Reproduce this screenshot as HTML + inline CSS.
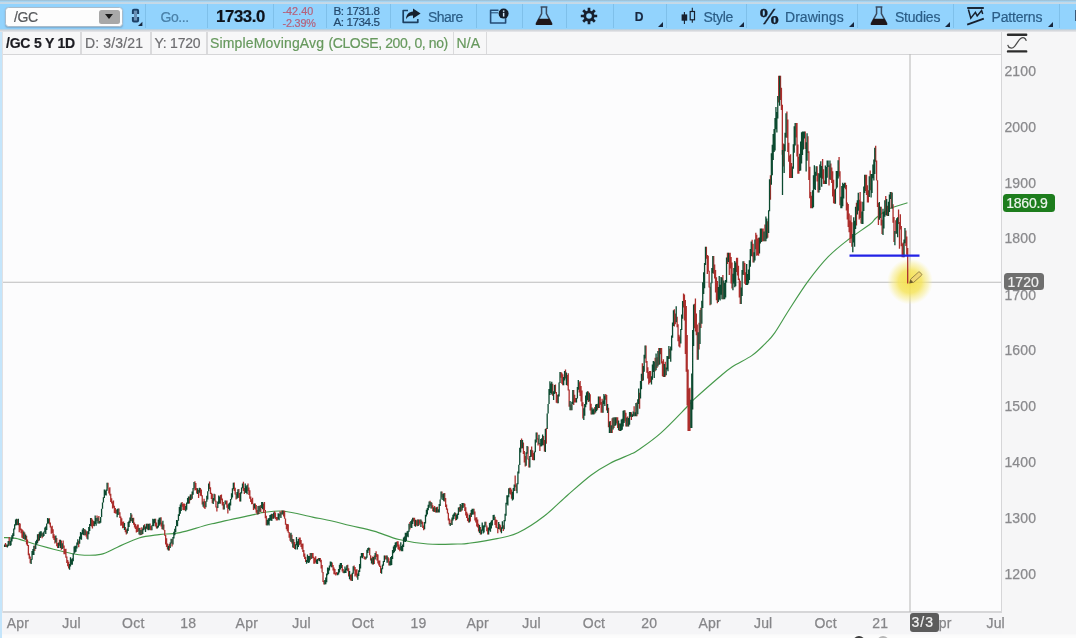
<!DOCTYPE html>
<html><head><meta charset="utf-8"><title>/GC chart</title>
<style>
*{box-sizing:border-box;margin:0;padding:0}
html,body{width:1076px;height:638px;overflow:hidden;background:#fcfcfd;font-family:"Liberation Sans",sans-serif}
#root{will-change:transform;position:relative;width:1076px;height:638px;overflow:hidden;background:#fcfcfd}
.abs{position:absolute}
#tb{left:0;top:0;width:1076px;height:29px;background:#92d3fd}
#tbtop{left:0;top:0;width:1076px;height:4px;background:linear-gradient(#9dc2d8 0,#9fc5dc 22%,#a4d4f2 30%,#a6d5f2 50%,#c2d8e8 58%,#c6d9e7 88%,#a8d6f4 100%)}
#tbtop2{display:none}
#tbbot{left:0;top:28.5px;width:1076px;height:3.3px;background:linear-gradient(#a9cfe8,#d3d6da 45%,#e9e9ec)}
.sep{position:absolute;top:4px;width:1px;height:24px;background:#7fc0ea}
.t{position:absolute;white-space:nowrap;line-height:1;-webkit-text-stroke:.2px currentColor}
.tri{position:absolute;top:22px;width:0;height:0;border-left:5px solid transparent;border-bottom:5px solid #17263d}
#info{left:3px;top:31px;width:997.8px;height:24px;background:#f7f7f8;border-bottom:1.5px solid #d6d6d8}
.isep{position:absolute;top:32px;width:1.5px;height:22px;background:#dadadc}
#leftb{left:0;top:29px;width:2px;height:609px;background:#c4e5fb;border-right:0}
#axr{left:1001.5px;top:31px;width:75px;height:607px;background:#f6f6f7}
#axb{left:2px;top:612px;width:1000px;height:22px;background:#f5f5f7}
#bot{left:0;top:633.8px;width:1076px;height:5px;background:linear-gradient(#f8f8f9,#fcfcfc 40%)}
.yl{position:absolute;left:1004.4px;font-size:14px;color:#8a8a8d;-webkit-text-stroke:.25px #8a8a8d;line-height:1;letter-spacing:.15px}
.xl{position:absolute;top:615.6px;font-size:14px;color:#868689;-webkit-text-stroke:.25px #868689;letter-spacing:.2px;line-height:1;transform:translateX(-50%);white-space:nowrap}
.chart{position:absolute;left:0;top:0}
</style></head><body><div id="root">

<!-- chart frame -->
<div class="abs" id="axr"></div>
<div class="abs" id="axb"></div>
<div class="abs" id="bot"></div>
<div class="abs" style="left:2.5px;top:611.2px;width:999.5px;height:1.6px;background:#d6d6d8"></div>
<div class="abs" style="left:1000.7px;top:31px;width:1.5px;height:582px;background:#d6d6d8"></div>
<div class="abs" id="leftb"></div>
<div class="abs" style="left:2px;top:31px;width:1px;height:582px;background:#e0e0e3"></div>

<!-- info bar -->
<div class="abs" id="info"></div>
<div class="isep" style="left:80px"></div>
<div class="isep" style="left:150px"></div>
<div class="isep" style="left:206px"></div>
<div class="isep" style="left:452.5px"></div>
<div class="isep" style="left:485.5px"></div>
<span class="t" id="i1" style="left:6px;top:36px;font-size:14px;font-weight:bold;color:#1c1c22;letter-spacing:-0.208px">/GC 5 Y 1D</span>
<span class="t" id="i2" style="left:85px;top:36px;font-size:14px;color:#6d6d70;letter-spacing:0.152px">D: 3/3/21</span>
<span class="t" id="i3" style="left:154.5px;top:36px;font-size:14px;color:#6d6d70;letter-spacing:-0.243px">Y: 1720</span>
<span class="t" id="i4" style="left:210px;top:36px;font-size:14px;color:#67995e;letter-spacing:0.16px">SimpleMovingAvg</span>
<span class="t" id="i6" style="left:328.5px;top:36px;font-size:14px;color:#67995e;letter-spacing:-0.397px">(CLOSE, 200, 0, no)</span>
<span class="t" id="i5" style="left:456.5px;top:36px;font-size:14px;color:#67995e;letter-spacing:0.185px">N/A</span>

<!-- scale icon -->
<svg class="abs" style="left:1005px;top:31px" width="26" height="24" viewBox="0 0 26 24"><path d="M3 3.8H21.2M3 20.4H21.2" stroke="#2c2c2c" stroke-width="2.4" stroke-linecap="round" fill="none"/><path d="M2.7 13.8C3.6 17.6 7.2 18 9.6 15.3C12.2 12.4 13.4 9.3 15.6 7.6C18 5.8 20.6 6.9 21.3 9.8" stroke="#4a4a4a" stroke-width="1.25" fill="none"/></svg>

<svg class="chart" width="1076" height="638" viewBox="0 0 1076 638">
<defs><radialGradient id="yl"><stop offset="0" stop-color="#f4e04a" stop-opacity=".95"/><stop offset=".5" stop-color="#f5e45c" stop-opacity=".85"/><stop offset=".8" stop-color="#f8ec88" stop-opacity=".45"/><stop offset="1" stop-color="#fbf3a0" stop-opacity="0"/></radialGradient></defs>
<path d="M3 282.2H1001" stroke="#bcbcbc" stroke-width="1.1" fill="none"/>
<path d="M910 54V612" stroke="#bcbcbc" stroke-width="1.1" fill="none"/>
<circle cx="910" cy="281.6" r="23" fill="url(#yl)"/>
<path d="M4.0 537.6C6.0 537.7 11.1 537.4 16.0 538.4C20.9 539.4 26.4 541.8 33.5 543.8C40.6 545.8 51.2 548.7 58.7 550.5C66.2 552.3 71.8 554.1 78.8 554.7C85.8 555.4 94.2 555.6 100.6 554.4C107.0 553.1 111.0 549.9 117.4 547.2C123.8 544.5 132.1 540.1 139.0 538.0C145.9 535.9 152.2 535.5 159.0 534.6C165.8 533.7 171.2 534.4 180.0 532.6C188.8 530.8 199.7 526.8 212.0 523.8C224.3 520.8 245.2 516.5 253.9 514.6C262.6 512.7 259.0 513.0 264.0 512.4C269.0 511.8 276.0 510.4 284.1 511.2C292.2 512.0 304.6 515.5 312.6 517.1C320.6 518.7 325.8 519.6 332.0 521.0C338.2 522.4 343.0 523.8 350.0 525.5C357.0 527.2 365.7 528.8 373.9 531.1C382.1 533.4 390.1 537.4 399.0 539.5C407.9 541.6 417.8 543.2 427.6 544.0C437.4 544.8 450.9 544.1 457.8 544.0C464.7 543.9 462.3 544.2 468.8 543.3C475.3 542.4 488.8 540.4 497.0 538.6C505.2 536.9 510.2 536.5 518.0 532.8C525.8 529.1 535.8 522.6 544.0 516.3C552.2 510.0 559.7 502.0 567.5 495.2C575.3 488.4 584.0 480.5 591.0 475.2C598.0 469.9 603.3 466.8 609.8 463.4C616.3 459.9 625.2 456.7 630.0 454.5C634.8 452.3 633.2 453.6 638.3 450.0C643.4 446.4 652.4 440.5 660.7 433.1C669.0 425.7 682.7 411.1 688.3 405.5C693.9 399.9 689.2 403.8 694.2 399.2C699.2 394.6 711.9 383.4 718.2 378.0C724.6 372.6 726.6 370.5 732.3 366.7C737.9 362.9 746.5 359.4 752.1 355.4C757.8 351.4 762.4 346.4 766.2 342.7C770.0 338.9 770.9 338.3 774.7 332.9C778.5 327.5 783.2 319.0 788.8 310.3C794.4 301.6 801.9 289.6 808.5 280.7C815.1 271.8 821.7 263.5 828.3 256.7C834.9 249.9 841.0 245.2 848.0 239.8C855.0 234.4 865.3 227.8 870.0 224.2C874.7 220.6 872.8 220.6 876.0 218.0C879.2 215.4 884.0 211.2 889.3 208.7C894.5 206.2 904.5 203.8 907.5 202.8" stroke="#45994a" stroke-width="1.15" fill="none" stroke-linejoin="round"/>
<g stroke-width="1.3" fill="none" style="filter:blur(.4px)">
<path d="M5.51 542.9V547.1M6.43 544.4V547.1M9.18 537.0V544.8M17.41 519.2V525.1M19.24 522.9V532.3M20.15 523.4V530.2M21.07 528.4V533.3M21.98 529.2V537.7M22.90 530.3V538.4M24.73 532.6V539.7M26.56 535.8V544.5M27.47 539.5V546.1M28.39 545.0V555.2M29.30 553.6V558.7M30.22 556.6V563.3M34.79 545.4V551.0M38.45 534.1V541.3M42.11 533.2V538.2M49.43 518.2V524.6M50.35 522.5V527.4M51.26 526.5V533.8M52.18 525.8V533.1M53.09 529.3V538.2M54.01 534.3V539.9M54.92 536.1V543.4M56.75 538.0V546.3M57.67 543.1V547.9M59.50 539.7V545.7M61.33 540.4V549.8M63.16 540.5V548.3M64.07 545.4V554.2M64.99 549.1V554.3M65.90 548.7V557.8M66.82 556.6V563.1M67.73 560.0V566.3M68.65 561.8V568.5M78.72 540.7V547.2M84.21 529.1V535.4M86.04 530.5V536.5M86.95 531.4V538.8M91.53 517.9V526.5M92.44 519.6V528.4M93.36 520.7V526.1M97.02 515.4V521.0M98.85 516.1V523.6M108.00 482.7V488.5M108.91 488.2V493.4M109.83 487.3V495.4M110.74 493.7V502.0M111.66 498.2V503.4M112.57 501.6V508.6M113.49 500.4V507.8M114.40 505.8V513.1M115.32 508.1V513.4M116.23 510.1V513.7M118.98 508.6V514.6M119.89 512.2V517.9M120.81 516.5V525.7M121.72 518.2V525.4M122.64 521.7V528.3M123.55 521.5V527.9M125.38 527.1V532.3M126.30 529.4V534.5M131.79 514.4V521.2M133.62 517.8V524.8M134.53 522.6V527.4M135.45 523.9V529.1M136.36 526.2V532.4M137.28 524.5V532.0M138.19 524.5V531.4M140.02 527.7V535.3M141.85 527.2V534.8M144.60 524.2V529.2M147.34 523.8V529.5M150.09 523.5V530.3M151.00 525.9V530.3M155.58 518.7V526.5M156.49 522.4V528.6M161.07 517.3V526.4M161.98 522.6V529.2M163.81 524.5V530.3M164.73 530.0V535.8M165.64 535.1V544.4M166.56 538.3V547.0M167.47 543.5V549.4M169.30 544.1V550.4M172.05 538.9V546.5M182.11 502.1V506.8M183.02 503.9V510.1M183.94 503.3V510.3M184.85 504.1V510.3M189.43 496.6V503.5M191.26 494.2V500.1M194.92 481.2V490.6M195.83 483.0V490.1M196.75 488.1V493.6M198.58 489.9V498.0M200.41 488.1V495.7M201.32 489.6V496.3M202.24 495.2V504.6M204.07 498.7V507.9M204.98 501.1V509.0M209.56 481.6V488.9M210.47 487.2V493.9M211.39 492.8V499.0M212.30 493.8V503.2M215.05 494.3V501.4M215.96 500.8V507.6M216.88 506.5V511.6M220.54 495.1V503.8M221.45 494.5V500.3M222.37 498.5V505.6M223.28 501.9V509.5M226.03 500.4V504.5M226.94 500.4V507.8M227.86 504.6V513.6M234.26 482.4V491.1M235.18 487.8V494.5M236.09 493.7V499.4M238.84 488.9V498.1M239.75 493.0V501.4M243.41 481.8V490.9M244.33 488.1V494.0M247.99 483.6V490.9M248.90 487.4V495.1M249.82 490.3V498.8M250.73 496.4V502.1M251.65 499.3V504.2M252.56 497.7V504.1M253.48 503.8V509.9M255.31 503.6V509.4M256.22 505.0V512.7M257.14 509.9V514.5M258.97 505.8V514.1M260.80 505.0V511.9M263.54 503.4V512.9M264.46 502.1V510.6M265.37 510.0V518.2M266.29 515.8V525.2M272.69 513.9V518.7M274.52 511.3V517.7M275.44 512.5V519.1M276.35 517.0V520.4M277.27 517.0V520.4M280.01 511.3V516.5M281.84 510.4V514.6M283.67 510.4V516.6M284.59 510.8V518.7M285.50 518.4V524.7M286.42 523.8V529.3M287.33 524.0V531.2M288.25 524.3V532.8M289.17 532.0V537.7M290.08 533.6V540.7M291.91 534.8V543.5M293.74 539.3V548.0M294.66 542.0V548.9M299.23 537.5V545.2M300.15 537.4V544.2M301.06 540.0V546.9M301.98 543.7V549.3M302.89 543.5V552.0M303.81 549.9V556.8M304.72 553.5V558.9M305.64 556.7V561.9M310.21 553.0V560.2M312.04 553.0V558.5M312.96 553.0V557.9M313.87 556.8V563.7M314.79 557.9V563.7M315.70 556.2V562.5M318.45 558.0V560.6M320.28 558.0V562.2M321.19 559.7V568.6M322.11 564.9V572.5M323.02 572.1V581.9M323.94 580.7V584.6M332.17 562.4V567.2M333.09 565.1V570.4M334.00 567.4V574.3M334.92 569.1V574.5M335.83 572.7V575.5M336.75 572.0V574.6M342.24 564.9V571.6M343.15 569.1V573.0M347.73 564.7V571.2M348.64 568.2V576.5M350.47 574.5V580.4M351.39 574.3V580.7M354.13 565.6V570.4M355.05 567.1V576.5M355.96 569.4V575.4M356.88 569.2V577.5M363.28 553.0V556.8M364.20 556.3V559.1M365.11 557.0V559.8M369.69 548.0V555.3M370.60 555.2V560.5M372.43 556.6V564.4M374.26 555.6V563.9M376.09 551.3V557.1M377.01 554.1V560.6M377.92 554.6V563.5M378.84 560.5V565.4M379.75 560.5V567.0M380.67 565.7V573.0M385.24 555.5V559.5M386.16 555.5V559.5M387.99 557.1V562.4M388.90 558.2V565.4M397.14 541.2V546.4M398.05 541.2V549.2M398.97 544.6V550.0M399.88 546.8V551.2M409.95 521.9V529.6M413.61 517.8V521.4M414.52 517.8V526.1M416.35 520.2V525.4M417.27 519.4V526.3M419.10 519.4V525.3M420.01 519.4V523.6M421.84 520.8V524.1M422.76 522.0V527.9M423.67 525.6V530.2M430.08 500.8V505.7M431.91 502.8V508.6M432.82 505.3V511.2M434.65 505.9V512.1M435.57 507.6V512.5M437.40 506.8V512.6M441.97 491.4V497.5M444.72 493.1V501.5M445.63 497.9V506.9M446.55 504.4V509.8M447.46 508.6V513.4M448.38 512.7V520.6M449.29 518.5V524.5M451.12 519.4V525.0M455.70 513.0V520.5M459.36 507.0V511.8M461.19 505.0V511.5M463.93 503.0V506.8M464.85 503.8V511.0M465.76 507.2V515.4M466.68 511.7V518.0M467.59 513.6V520.9M468.51 517.7V522.6M470.34 512.9V521.6M474.00 508.8V514.6M474.91 511.4V520.4M475.83 517.6V522.6M476.74 517.3V526.5M477.66 519.5V527.4M478.57 523.8V531.5M480.40 526.9V534.4M485.89 521.8V525.6M486.81 525.4V531.2M487.72 527.4V534.4M495.04 516.7V524.9M495.96 519.5V527.7M496.87 520.1V528.3M497.79 527.2V533.2M499.62 524.0V529.5M500.53 525.3V531.8M503.28 525.3V531.1M509.68 487.7V493.8M510.60 487.7V494.6M511.51 489.5V498.8M515.17 475.6V487.3M516.09 484.4V491.1M521.58 438.4V448.4M523.41 442.4V454.1M524.32 451.0V462.5M525.24 456.1V466.4M527.98 446.4V459.5M528.90 458.8V467.4M531.64 446.4V456.8M532.56 450.3V460.1M533.47 452.9V460.3M537.13 432.4V439.4M538.05 438.5V445.5M539.88 442.9V450.9M543.54 436.0V445.3M544.45 440.1V451.6M546.28 428.1V443.8M552.69 383.7V395.8M555.43 384.5V393.3M556.35 392.1V402.7M557.26 394.9V403.3M560.92 371.9V377.7M561.84 372.8V383.7M562.75 374.2V385.2M565.50 369.4V378.4M567.33 374.9V385.7M568.24 373.3V390.4M569.16 389.5V406.7M570.99 404.6V410.2M573.73 389.9V404.9M574.65 394.7V402.4M575.56 397.9V402.4M579.22 382.2V392.5M580.14 381.1V395.9M581.05 386.1V401.5M581.97 390.6V406.3M582.88 402.2V418.5M588.37 391.4V402.0M590.20 394.2V410.4M591.12 403.8V414.5M594.78 407.1V413.8M597.52 403.8V409.7M599.35 396.5V408.0M600.27 396.5V404.8M601.18 402.0V412.8M602.10 398.7V412.8M605.76 393.9V399.8M606.67 395.0V410.5M608.50 407.8V427.3M610.33 421.1V433.1M612.16 418.3V433.1M613.99 417.6V428.1M616.74 417.2V423.4M617.65 417.2V428.1M619.48 423.5V430.9M624.97 410.3V421.5M625.89 412.8V426.6M627.72 416.4V426.6M631.38 412.3V419.9M634.12 406.3V416.2M636.87 402.5V416.2M639.61 392.7V408.7M642.35 363.3V381.0M646.01 345.6V362.7M646.93 361.1V372.8M647.84 367.2V378.5M648.76 371.7V384.4M649.67 371.1V382.9M650.59 371.0V382.3M655.16 357.8V371.3M656.99 357.2V368.0M658.82 347.9V364.9M660.65 347.9V354.2M661.57 347.9V363.4M662.48 361.3V376.3M663.40 359.3V376.9M665.23 361.8V376.8M669.80 348.8V358.7M674.38 309.2V326.6M675.29 313.4V324.3M677.12 316.7V327.2M678.04 324.3V341.3M678.95 334.8V346.4M679.87 336.4V347.4M683.53 293.6V307.6M684.44 294.5V320.5M685.36 300.0V354.1M686.27 306.1V371.7M687.19 335.1V405.5M688.10 369.5V431.0M689.02 388.5V431.0M689.93 387.7V431.0M694.51 303.8V328.3M695.42 298.6V331.6M696.34 313.6V335.3M697.25 324.5V359.8M699.08 322.7V349.5M700.91 307.7V328.0M706.40 246.7V258.7M707.32 255.1V273.9M708.23 255.7V271.5M709.15 270.7V287.4M710.06 286.8V305.2M713.72 256.0V273.7M714.64 264.6V278.5M715.55 269.9V292.4M716.47 277.3V300.2M717.38 281.0V303.3M722.87 274.9V299.3M727.45 252.7V263.9M729.28 252.7V275.1M730.19 252.7V268.5M731.11 257.1V283.4M732.02 262.4V288.4M736.60 257.7V272.1M737.51 257.7V275.6M738.43 265.8V280.1M739.34 278.5V297.6M740.26 280.8V303.9M743.92 261.2V274.9M744.83 262.9V283.8M745.75 272.3V285.0M752.15 239.7V256.5M753.07 243.7V262.6M755.81 232.7V249.2M756.73 234.7V255.7M757.64 238.4V255.3M758.56 237.7V255.7M762.22 228.4V241.4M763.13 228.4V241.3M764.96 224.4V241.3M767.71 221.2V237.7M770.45 175.2V199.8M778.69 75.8V102.4M780.52 75.8V99.9M781.43 87.7V109.9M782.35 104.7V154.7M783.26 143.6V166.6M786.92 111.6V137.8M787.84 119.5V151.9M788.75 142.7V161.8M789.67 155.5V177.9M790.58 154.2V177.9M791.50 162.9V177.9M796.07 122.9V137.6M796.99 123.0V156.5M797.90 144.6V173.7M798.82 156.8V173.7M805.22 131.4V149.1M807.97 136.3V153.0M808.88 151.3V180.0M809.80 166.8V198.2M810.71 192.1V208.2M811.63 195.7V208.2M817.12 166.2V181.5M818.03 172.9V192.5M822.61 159.1V178.8M823.52 169.2V184.1M824.44 180.5V184.1M829.01 165.3V185.6M830.84 163.6V179.9M831.76 167.4V183.1M832.67 171.2V196.4M833.59 179.7V203.2M834.50 189.4V203.8M839.08 157.0V176.6M839.99 171.2V205.2M845.48 182.7V189.2M846.40 184.9V210.5M847.31 202.5V219.5M848.23 203.9V226.9M849.14 213.4V232.3M850.06 220.6V242.9M850.97 215.2V238.6M851.89 222.3V246.7M856.46 202.7V225.4M859.21 199.7V219.4M860.12 192.0V217.9M861.04 201.6V223.4M865.61 174.7V191.0M866.53 174.7V194.9M867.44 185.3V202.6M868.36 190.3V202.6M870.19 170.4V190.3M875.68 145.7V161.7M876.59 160.4V180.5M877.51 180.2V206.9M878.42 203.0V225.1M881.17 206.7V225.6M882.08 219.7V234.0M885.74 196.0V215.3M887.57 205.7V216.0M891.23 192.0V208.3M893.06 204.3V222.7M893.98 216.9V242.1M895.81 220.2V233.8M898.55 209.4V224.1M899.47 222.1V248.8M900.38 214.3V229.4M901.30 226.0V246.3M902.21 243.6V257.3M903.13 242.5V257.3M905.87 230.4V245.9M906.79 236.5V254.7M907.70 248.0V283.5" stroke="#ac2e2c"/>
<path d="M4.60 544.6V547.1M7.34 544.6V547.4M8.26 540.9V546.2M10.09 540.9V546.0M11.00 538.3V545.3M11.92 535.2V541.4M12.83 533.2V538.8M13.75 528.5V535.9M14.66 524.3V529.4M15.58 519.4V525.6M16.49 518.7V525.2M18.32 518.7V525.2M23.81 531.5V539.0M25.64 534.6V539.7M31.13 558.9V563.9M32.05 551.1V559.8M32.96 548.9V555.0M33.88 545.7V555.0M35.71 541.3V548.9M36.62 539.7V544.5M37.54 534.3V543.2M39.37 532.2V540.6M40.28 531.2V538.0M41.20 531.2V536.5M43.03 532.6V537.1M43.94 531.4V536.1M44.86 527.5V532.3M45.77 526.4V534.1M46.69 523.4V529.9M47.60 517.9V523.8M48.52 518.4V523.6M55.84 535.6V542.6M58.58 542.5V547.9M60.41 539.7V548.0M62.24 543.3V549.1M69.56 564.0V569.7M70.48 557.3V566.4M71.40 559.2V564.7M72.31 558.3V564.7M73.23 553.4V561.2M74.14 546.6V553.8M75.06 545.7V552.5M75.97 545.8V551.7M76.89 542.6V548.5M77.80 539.3V544.7M79.63 536.6V543.8M80.55 532.1V539.2M81.46 532.8V539.7M82.38 529.5V534.3M83.29 528.0V534.9M85.12 529.6V534.9M87.87 531.2V539.6M88.78 527.1V534.3M89.70 524.1V531.1M90.61 517.9V526.0M94.27 521.2V526.3M95.19 515.6V524.1M96.10 517.9V525.8M97.93 517.4V523.6M99.76 521.0V523.6M100.68 517.0V522.8M101.59 508.7V517.0M102.51 502.4V508.7M103.42 497.3V502.4M104.34 489.5V498.1M105.25 490.4V495.3M106.17 489.4V495.5M107.08 482.7V490.7M117.15 508.9V517.3M118.06 508.6V515.0M124.47 523.1V530.1M127.21 528.4V533.5M128.13 522.0V530.9M129.04 520.7V526.9M129.96 517.6V523.1M130.87 512.9V521.2M132.70 518.1V522.9M139.11 527.9V534.5M140.94 530.1V535.1M142.77 528.6V534.0M143.68 525.2V530.3M145.51 526.6V532.1M146.43 523.8V528.7M148.26 523.8V530.2M149.17 523.8V529.8M151.92 525.2V530.3M152.83 518.7V526.0M153.75 519.2V526.3M154.66 518.7V523.2M157.41 525.8V528.6M158.32 519.4V527.4M159.24 517.7V525.7M160.15 517.5V524.5M162.90 520.8V529.5M168.39 545.7V550.4M170.22 542.6V548.1M171.13 538.7V543.5M172.96 536.9V544.4M173.88 531.8V538.6M174.79 528.8V535.3M175.70 525.9V531.9M176.62 520.1V526.2M177.53 520.3V526.3M178.45 514.3V520.8M179.36 506.9V515.9M180.28 504.6V513.8M181.19 502.8V511.0M185.77 506.1V511.2M186.68 502.4V509.8M187.60 497.9V503.7M188.51 496.5V503.7M190.34 494.6V500.3M192.17 491.4V498.8M193.09 488.1V494.8M194.00 481.9V488.6M197.66 488.2V494.0M199.49 487.8V492.8M203.15 501.4V506.7M205.90 501.4V507.3M206.81 495.8V501.7M207.73 491.2V499.5M208.64 483.5V491.3M213.22 498.0V503.9M214.13 493.7V500.6M217.79 501.5V507.9M218.71 495.5V504.1M219.62 496.4V503.6M224.20 504.2V509.5M225.11 500.4V504.2M228.77 503.4V509.0M229.69 502.6V510.6M230.60 498.9V505.4M231.52 493.3V499.4M232.43 488.3V497.6M233.35 482.8V489.3M237.01 492.0V498.7M237.92 489.2V497.7M240.67 492.2V501.6M241.58 487.4V493.4M242.50 483.4V488.2M245.24 483.6V492.8M246.16 486.3V493.1M247.07 485.0V494.2M254.39 503.4V508.6M258.05 506.1V514.5M259.88 505.8V511.8M261.71 502.1V508.1M262.63 502.1V509.2M267.20 520.0V525.4M268.12 518.5V524.5M269.03 517.9V525.4M269.95 515.1V520.9M270.86 514.6V520.1M271.78 513.7V521.1M273.61 512.5V518.7M278.18 513.2V519.4M279.10 513.8V520.3M280.93 512.2V518.1M282.76 510.4V514.5M291.00 532.8V542.0M292.83 538.9V547.4M295.57 544.3V549.6M296.49 536.9V545.2M297.40 541.2V549.6M298.32 539.0V547.1M306.55 560.1V563.7M307.47 554.4V562.3M308.38 555.9V563.1M309.30 555.9V562.5M311.13 553.0V559.1M316.62 559.6V563.7M317.53 558.9V563.9M319.36 558.0V561.0M324.85 580.0V584.6M325.77 577.4V584.2M326.68 573.6V582.3M327.60 567.4V575.2M328.51 567.8V574.0M329.43 565.4V570.4M330.34 561.4V566.3M331.26 561.8V567.2M337.66 572.5V575.3M338.58 569.1V574.6M339.49 564.7V572.6M340.41 563.1V569.6M341.32 563.1V567.9M344.07 570.4V573.2M344.98 566.6V573.0M345.90 568.6V573.0M346.81 565.2V570.2M349.56 570.9V579.2M352.30 572.7V580.9M353.22 566.3V573.8M357.79 573.4V579.7M358.71 570.2V576.1M359.62 564.0V571.9M360.54 556.3V568.6M361.45 553.0V557.6M362.37 553.0V558.2M366.03 556.4V559.2M366.94 549.7V557.8M367.86 548.0V553.1M368.77 547.6V550.4M371.52 558.2V563.5M373.35 556.9V564.6M375.18 553.1V559.4M381.58 568.2V573.8M382.50 564.6V569.3M383.41 561.0V565.8M384.33 555.5V562.1M387.07 555.5V562.8M389.82 561.2V565.4M390.73 557.0V565.4M391.65 556.0V565.0M392.56 549.9V558.9M393.48 546.6V553.2M394.39 545.0V552.3M395.31 542.4V550.8M396.22 542.0V547.5M400.80 542.2V550.3M401.71 545.9V551.2M402.63 544.5V551.2M403.54 537.5V546.9M404.46 536.6V541.8M405.37 532.7V542.1M406.29 532.8V541.1M407.20 531.3V536.6M408.12 530.7V537.3M409.03 523.7V531.8M410.86 521.0V527.7M411.78 519.4V528.1M412.69 517.8V523.9M415.44 519.7V526.8M418.18 519.4V525.9M420.93 519.4V526.9M424.59 521.9V529.2M425.50 514.8V523.6M426.42 509.8V516.5M427.33 508.0V514.6M428.25 504.8V510.2M429.16 501.6V507.7M430.99 501.9V508.4M433.74 507.3V511.7M436.48 507.3V512.6M438.31 509.3V512.6M439.23 504.1V512.6M440.14 499.5V506.1M441.06 491.6V499.6M442.89 493.7V499.9M443.80 493.3V501.2M450.21 523.0V526.0M452.04 517.4V525.0M452.95 514.7V520.5M453.87 513.5V519.1M454.78 512.2V516.3M456.61 514.6V520.0M457.53 513.5V518.8M458.44 507.6V514.9M460.27 503.9V511.8M462.10 503.0V510.5M463.02 503.0V507.9M469.42 514.8V522.6M471.25 509.9V517.1M472.17 508.8V514.7M473.08 508.8V514.4M479.49 524.9V533.0M481.32 529.5V534.4M482.23 522.5V530.8M483.15 525.6V533.5M484.06 525.2V532.5M484.98 521.8V527.3M488.64 527.4V534.4M489.55 522.9V530.5M490.47 522.3V531.8M491.38 520.6V528.5M492.30 520.0V525.5M493.21 514.9V520.2M494.13 514.8V520.0M498.70 521.9V528.9M501.45 527.2V533.2M502.36 521.2V528.8M504.19 519.9V529.2M505.11 513.8V521.2M506.02 502.7V515.8M506.94 495.2V504.2M507.85 495.2V505.4M508.77 488.3V497.2M512.43 491.7V500.6M513.34 487.9V499.6M514.26 484.4V490.9M517.00 483.2V493.2M517.92 471.6V484.2M518.83 464.7V473.5M519.75 447.7V464.9M520.66 440.1V452.6M522.49 440.1V448.2M526.15 452.3V465.8M527.07 446.1V453.8M529.81 456.1V467.4M530.73 449.8V457.1M534.39 451.4V460.3M535.30 439.6V452.2M536.22 432.4V442.4M538.96 434.7V444.2M540.79 439.1V446.4M541.71 438.3V446.2M542.62 434.5V445.3M545.37 428.9V452.1M547.20 413.4V428.9M548.11 403.9V413.4M549.03 389.1V404.1M549.94 381.3V395.0M550.86 383.5V393.0M551.77 381.8V394.5M553.60 391.3V400.1M554.52 385.1V394.0M558.18 394.3V403.3M559.09 382.6V396.5M560.01 371.9V382.9M563.67 377.0V385.2M564.58 371.1V380.6M566.41 372.5V385.1M570.07 401.1V410.2M571.90 401.8V410.2M572.82 389.9V404.1M576.48 398.1V402.4M577.39 386.9V398.6M578.31 380.1V389.7M583.80 408.2V420.1M584.71 404.0V415.7M585.63 395.5V407.3M586.54 392.2V404.6M587.46 391.3V400.3M589.29 392.8V401.4M592.03 407.6V414.5M592.95 409.5V414.5M593.86 408.4V414.5M595.69 404.6V412.4M596.61 403.9V411.1M598.44 396.5V407.9M603.01 400.5V412.8M603.93 393.9V403.9M604.84 395.4V406.0M607.59 404.1V413.1M609.42 421.5V433.1M611.25 425.3V433.1M613.08 417.4V429.4M614.91 417.2V425.9M615.82 417.2V425.2M618.57 420.6V430.2M620.40 423.5V430.9M621.31 419.4V430.5M622.23 418.7V429.7M623.14 410.7V426.4M624.06 410.3V423.0M626.80 417.4V426.6M628.63 417.9V426.6M629.55 412.0V424.7M630.46 412.0V416.8M632.29 414.2V417.0M633.21 411.4V416.2M635.04 412.2V416.2M635.95 402.9V416.2M637.78 399.3V414.3M638.69 388.6V403.9M640.52 381.0V398.4M641.44 373.7V389.3M643.27 366.1V380.5M644.18 354.7V371.8M645.10 345.6V358.5M651.50 376.3V384.4M652.42 364.4V379.8M653.33 361.1V371.9M654.25 361.4V378.1M656.08 353.6V370.2M657.91 351.0V366.6M659.74 347.9V364.5M664.31 364.0V376.9M666.14 367.5V375.3M667.06 356.0V369.4M667.97 356.2V371.2M668.89 345.9V358.9M670.72 346.5V361.7M671.63 335.6V350.4M672.55 322.6V337.7M673.46 310.3V325.9M676.21 306.2V322.2M680.78 329.1V343.5M681.70 314.5V330.1M682.61 301.1V318.8M690.85 399.8V428.0M691.76 373.5V428.0M692.68 330.0V409.5M693.59 304.6V346.0M698.17 332.2V359.8M700.00 309.9V344.1M701.83 300.7V323.8M702.74 282.2V307.9M703.66 272.3V294.0M704.57 262.9V288.2M705.49 246.7V265.1M710.98 282.7V304.5M711.89 268.0V283.2M712.81 256.0V273.3M718.30 287.0V302.1M719.21 276.1V299.5M720.13 284.7V300.4M721.04 277.1V294.7M721.96 277.5V299.3M723.79 280.4V299.3M724.70 283.1V299.3M725.62 280.1V297.5M726.53 257.6V282.6M728.36 252.7V262.1M732.94 273.7V290.3M733.85 268.0V283.5M734.77 261.1V287.2M735.68 262.5V286.2M741.17 287.4V304.1M742.09 269.9V296.1M743.00 261.2V274.7M746.66 264.0V285.0M747.58 274.0V285.0M748.49 269.6V283.5M749.41 260.3V279.9M750.32 248.9V266.7M751.24 241.5V256.0M753.98 252.3V262.6M754.90 239.6V260.5M759.47 237.6V253.6M760.39 228.4V243.5M761.30 228.4V241.9M764.05 231.6V241.3M765.88 216.4V241.3M766.79 218.6V238.8M768.62 210.2V233.0M769.54 179.2V211.2M771.37 153.3V184.8M772.28 144.7V175.2M773.20 134.0V159.9M774.11 129.1V152.0M775.03 117.9V150.4M775.94 107.0V129.2M776.86 112.0V132.5M777.77 95.9V118.5M779.60 75.8V105.8M784.18 144.3V173.0M785.09 132.7V151.2M786.01 113.2V137.5M792.41 166.5V177.9M793.33 144.2V168.8M794.24 126.2V152.7M795.16 122.9V145.5M799.73 153.7V171.1M800.65 141.4V170.6M801.56 132.3V163.5M802.48 131.4V154.9M803.39 131.4V149.6M804.31 131.4V138.6M806.14 142.2V171.6M807.05 133.2V160.7M812.54 190.2V208.2M813.46 175.2V207.2M814.37 165.3V189.1M815.29 171.8V189.9M816.20 166.2V175.8M818.95 173.5V192.5M819.86 164.6V189.9M820.78 161.3V177.7M821.69 166.1V186.8M825.35 165.4V184.1M826.27 166.9V184.1M827.18 160.6V177.8M828.10 160.5V167.0M829.93 160.5V179.5M835.42 188.7V203.8M836.33 171.0V188.8M837.25 170.9V187.6M838.16 160.3V178.6M840.91 196.8V208.3M841.82 186.1V208.3M842.74 182.7V206.3M843.65 184.0V198.6M844.57 182.7V187.8M852.80 234.1V252.2M853.72 217.2V242.5M854.63 220.7V246.7M855.55 206.7V229.0M857.38 200.3V214.5M858.29 192.8V210.8M861.95 211.6V224.0M862.87 201.7V224.0M863.78 186.5V211.0M864.70 174.7V193.1M869.27 176.3V196.9M871.10 173.9V197.6M872.02 174.0V193.0M872.93 164.4V178.3M873.85 159.6V180.6M874.76 147.7V173.9M879.34 202.0V219.8M880.25 206.7V218.0M883.00 208.8V235.1M883.91 211.9V228.4M884.83 200.2V216.8M886.66 198.9V215.4M888.49 201.8V216.0M889.40 194.6V211.9M890.32 192.0V199.0M892.15 192.4V208.7M894.89 231.0V245.3M896.72 218.3V233.8M897.64 217.2V237.3M904.04 239.4V257.3M904.96 228.0V243.2M782.50 150.0V195.0" stroke="#0c4a30"/>
</g>
<path d="M849.5 255.6H919.5" stroke="#2222e6" stroke-width="2.2" fill="none"/>
<g transform="translate(911,281.8) rotate(-42)"><rect x="1" y="-2.2" width="12" height="4.4" rx=".8" fill="#f0d774" stroke="#7a6a3c" stroke-width=".7"/><path d="M1 -2.2L-2.5 0L1 2.2Z" fill="#6b5a2a"/></g>
</svg>

<!-- y labels -->
<span class="yl" style="top:64px">2100</span>
<span class="yl" style="top:119.5px">2000</span>
<span class="yl" style="top:175.5px">1900</span>
<span class="yl" style="top:231px">1800</span>
<span class="yl" style="top:287.5px">1700</span>
<span class="yl" style="top:343px">1600</span>
<span class="yl" style="top:399px">1500</span>
<span class="yl" style="top:455px">1400</span>
<span class="yl" style="top:511px">1300</span>
<span class="yl" style="top:567px">1200</span>
<div class="abs" style="left:1003.2px;top:194.2px;width:52px;height:18px;border-radius:3.5px;background:#1d7d1d"></div>
<span class="t" id="b1" style="left:1006.2px;top:196.2px;font-size:14px;color:#eef5ee;letter-spacing:-0.221px">1860.9</span>
<div class="abs" style="left:1004px;top:273.2px;width:39.5px;height:17.3px;border-radius:3.5px;background:#6f6f6f"></div>
<span class="t" id="b2" style="left:1007.5px;top:274.8px;font-size:14px;color:#f0f0f0;letter-spacing:0.036px">1720</span>

<!-- x labels -->
<span class="xl" style="left:18px">Apr</span><span class="xl" style="left:71.5px">Jul</span><span class="xl" style="left:133.3px">Oct</span><span class="xl" style="left:188.2px">18</span>
<span class="xl" style="left:246.8px">Apr</span><span class="xl" style="left:301.6px">Jul</span><span class="xl" style="left:363px">Oct</span><span class="xl" style="left:418.6px">19</span>
<span class="xl" style="left:477.7px">Apr</span><span class="xl" style="left:531.5px">Jul</span><span class="xl" style="left:594px">Oct</span><span class="xl" style="left:649.2px">20</span>
<span class="xl" style="left:709.6px">Apr</span><span class="xl" style="left:763.2px">Jul</span><span class="xl" style="left:825.6px">Oct</span><span class="xl" style="left:880.2px">21</span>
<span class="xl" style="left:940.5px">Apr</span><span class="xl" style="left:995.7px">Jul</span>
<div class="abs" style="left:909.8px;top:612.7px;width:28.8px;height:19px;border-radius:3px;background:#5c5c5c"></div>
<span class="t" id="b3" style="left:911.4px;top:614.6px;font-size:14px;color:#f2f2f2;letter-spacing:1.044px">3/3</span>
<div class="abs" style="left:853px;top:635.6px;width:12px;height:12px;border-radius:6px;background:#3c3c3c"></div>
<div class="abs" style="left:876.5px;top:636px;width:12px;height:12px;border-radius:6px;background:#b5b5b5"></div>

<!-- toolbar -->
<div class="abs" id="tb"></div><div class="abs" id="tbtop"></div><div class="abs" id="tbtop2"></div><div class="abs" id="tbbot"></div>
<div class="sep" style="left:145px"></div><div class="sep" style="left:206.5px"></div><div class="sep" style="left:273px"></div>
<div class="sep" style="left:325.5px"></div><div class="sep" style="left:389.5px"></div><div class="sep" style="left:476px"></div>
<div class="sep" style="left:522px"></div><div class="sep" style="left:566px"></div><div class="sep" style="left:613px"></div>
<div class="sep" style="left:665.5px"></div><div class="sep" style="left:746px"></div><div class="sep" style="left:856.5px"></div>
<div class="sep" style="left:953.3px"></div><div class="sep" style="left:1058.5px"></div>

<!-- symbol box -->
<div class="abs" style="left:4.5px;top:6.5px;width:118px;height:20px;border-radius:3.5px;background:#fdfdfd;border:1px solid #a9bccb;box-shadow:0 1px 1.5px rgba(90,120,150,.45)"></div>
<span class="t" id="t0" style="left:14px;top:9.5px;font-size:14px;color:#57595c;letter-spacing:-0.43px">/GC</span>
<div class="abs" style="left:99px;top:10px;width:20.5px;height:13.5px;border-radius:2.5px;background:#a8a8a8"></div>
<div class="abs" style="left:104.5px;top:14px;width:0;height:0;border-left:4.5px solid transparent;border-right:4.5px solid transparent;border-top:5px solid #1a1a1a"></div>

<!-- link icon -->
<svg class="abs" style="left:129px;top:6px" width="16" height="22" viewBox="0 0 16 22"><rect x="5" y="4.8" width="3" height="10.6" fill="#6b90b6"/><path d="M3.9 8.1V4.7Q3.9 3.7 4.9 3.7H8.1Q9.1 3.7 9.1 4.7V8.1M3.9 11.1V14.6Q3.9 15.6 4.9 15.6H8.1Q9.1 15.6 9.1 14.6V11.1" fill="none" stroke="#1c3f66" stroke-width="2"/><path d="M13.4 15.8V20H9z" fill="#17263d"/></svg>

<span class="t" id="t1" style="left:160.5px;top:9.5px;font-size:14px;color:#4a80a8;letter-spacing:-0.432px">Go...</span>
<span class="t" id="t2" style="left:216px;top:8.9px;font-size:16.8px;font-weight:bold;color:#0d131c;letter-spacing:-0.388px">1733.0</span>
<span class="t" id="t3" style="left:282.5px;top:5.8px;font-size:10.8px;color:#b6627b;letter-spacing:0.012px">-42.40</span>
<span class="t" id="t4" style="left:282.5px;top:17.6px;font-size:10.8px;color:#b6627b;letter-spacing:-0.17px">-2.39%</span>
<span class="t" id="t5" style="left:333.5px;top:5.2px;font-size:11.7px;color:#24486b;letter-spacing:-0.45px">B: 1731.8</span>
<span class="t" id="t6" style="left:333.5px;top:16.1px;font-size:11.7px;color:#24486b;letter-spacing:-0.45px">A: 1734.5</span>

<!-- share icon -->
<svg class="abs" style="left:400px;top:6px" width="24" height="20" viewBox="0 0 24 20"><path d="M8 4.5H3.2V16.3H17.8V13" fill="none" stroke="#1d4062" stroke-width="1.7" stroke-linejoin="round"/><path d="M13 2.5L20.6 7.6L13 12.6V9.6C9.5 9.4 7.4 10.8 6 13.3C6.2 8.6 8.8 5.8 13 5.6Z" fill="#17202e"/></svg>
<span class="t" id="t7" style="left:428px;top:9.5px;font-size:14px;color:#2b5d86;letter-spacing:-0.532px">Share</span>

<!-- info window icon -->
<svg class="abs" style="left:488px;top:6px" width="24" height="20" viewBox="0 0 24 20"><path d="M10.5 4.3H2.6V17H17.6V11.5" fill="none" stroke="#244c75" stroke-width="1.6" stroke-linejoin="round"/><path d="M3 6.8H10" stroke="#244c75" stroke-width="1"/><circle cx="15.6" cy="7.6" r="5" fill="#141c28"/><rect x="14.9" y="6.8" width="1.5" height="3.8" fill="#cfe7fa"/><rect x="14.9" y="4.4" width="1.5" height="1.5" fill="#cfe7fa"/></svg>

<!-- flask 1 -->
<svg class="abs flask" style="left:534px;top:5px" width="20" height="21" viewBox="0 0 20 21"><path d="M6.6 1.9H13.4M7.6 1.9V8.6L2.4 18.4H17.6L12.4 8.6V1.9" fill="none" stroke="#3b4d63" stroke-width="1.5" stroke-linejoin="round"/><path d="M4.5 13.7H15.5L18.3 19Q18.7 20.1 17.6 20.1H2.4Q1.3 20.1 1.7 19Z" fill="#1f1719"/></svg>

<!-- gear -->
<svg class="abs" style="left:579px;top:6px" width="20" height="20" viewBox="-10 -10 20 20"><g stroke="#17202e" stroke-width="2.7" stroke-linecap="butt"><path d="M0 -8.2V8.2M-8.2 0H8.2M-5.8 -5.8L5.8 5.8M-5.8 5.8L5.8 -5.8"/></g><circle r="5.5" fill="#17202e"/><circle r="2.8" fill="#95d4fc"/></svg>

<span class="t" id="t8" style="left:634.8px;top:10.6px;font-size:12.1px;font-weight:bold;color:#182840;letter-spacing:-0.534px">D</span>
<div class="tri" style="left:657.5px"></div>

<!-- candle icon -->
<svg class="abs" style="left:679px;top:6px" width="20" height="20" viewBox="0 0 20 20"><path d="M5.4 6V18" stroke="#17202e" stroke-width="1.1"/><rect x="2.6" y="8.4" width="5.6" height="6.3" fill="#17202e"/><path d="M13.3 1.8V5.5M13.3 13.8V16.8" stroke="#17202e" stroke-width="1.1"/><rect x="11.2" y="5.5" width="4.3" height="8.3" fill="none" stroke="#17202e" stroke-width="1.2"/></svg>
<span class="t" id="t9" style="left:703.5px;top:9.5px;font-size:14px;color:#2b5d86;letter-spacing:-0.365px">Style</span>
<div class="tri" style="left:738.5px"></div>

<span class="t" id="t10" style="left:758px;top:6.2px;font-size:22.3px;-webkit-text-stroke:.35px #141c2a;font-weight:bold;color:#141c2a;font-family:'Liberation Serif',serif">%</span>
<span class="t" id="t11" style="left:785px;top:9.5px;font-size:14px;color:#2b5d86;letter-spacing:0.043px">Drawings</span>
<div class="tri" style="left:849px"></div>

<!-- flask 2 -->
<svg class="abs flask" style="left:869px;top:5px" width="20" height="21" viewBox="0 0 20 21"><path d="M6.6 1.9H13.4M7.6 1.9V8.6L2.4 18.4H17.6L12.4 8.6V1.9" fill="none" stroke="#3b4d63" stroke-width="1.5" stroke-linejoin="round"/><path d="M4.5 13.7H15.5L18.3 19Q18.7 20.1 17.6 20.1H2.4Q1.3 20.1 1.7 19Z" fill="#1f1719"/></svg>
<span class="t" id="t12" style="left:895px;top:9.5px;font-size:14px;color:#2b5d86;letter-spacing:-0.215px">Studies</span>
<div class="tri" style="left:945.3px"></div>

<!-- patterns icon -->
<svg class="abs" style="left:965px;top:5px" width="22" height="22" viewBox="0 0 22 22"><path d="M2.2 3H18.8" stroke="#17202e" stroke-width="1.9"/><path d="M3.4 4.5L5.8 13.1L10.4 7.4L12.2 10.9L16.6 5.6L17.7 9" fill="none" stroke="#17202e" stroke-width="1.5" stroke-linejoin="miter"/><path d="M2.2 19.6L18.8 13.6" stroke="#17202e" stroke-width="1.9"/></svg>
<span class="t" id="t13" style="left:991.5px;top:9.5px;font-size:14px;color:#2b5d86;letter-spacing:-0.168px">Patterns</span>
<div class="tri" style="left:1048.2px"></div>
<div class="abs" style="left:1075.1px;top:9.5px;width:1px;height:11px;background:#3a5878"></div>

</div></body></html>
